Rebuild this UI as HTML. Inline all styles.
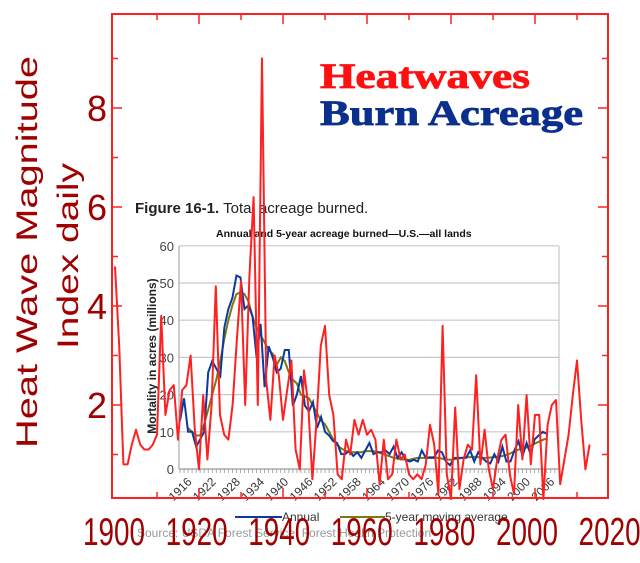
<!DOCTYPE html>
<html><head><meta charset="utf-8"><style>
html,body{margin:0;padding:0;background:#fff;}
svg{display:block;}
</style></head><body>
<svg id="chart" width="640" height="563" viewBox="0 0 640 563" xmlns="http://www.w3.org/2000/svg">
<rect x="0" y="0" width="640" height="563" fill="#fff"/>
<g id="inner"></g>
<g id="outer"></g>
<text x="320" y="88" font-family="Liberation Serif, serif" font-weight="bold" font-size="36" fill="#ff1010" stroke="#ff1010" stroke-width="0.8" textLength="210" lengthAdjust="spacingAndGlyphs">Heatwaves</text>
<text x="320" y="125" font-family="Liberation Serif, serif" font-weight="bold" font-size="36" fill="#0a2f8c" stroke="#0a2f8c" stroke-width="0.8" textLength="263" lengthAdjust="spacingAndGlyphs">Burn Acreage</text>
</svg>
<script>
const hwYears=[];for(let y=1900;y<=2013;y++)hwYears.push(y);
const hwValues=[4.8,3.2,0.8,0.8,1.2,1.5,1.2,1.1,1.1,1.2,1.4,3.8,1.8,2.3,2.4,1.3,2.3,2.4,3.0,1.5,0.7,2.2,0.9,2.0,4.4,1.8,1.4,1.3,2.0,3.3,4.5,2.0,4.6,6.2,2.0,9.0,2.5,1.7,3.0,2.6,1.7,2.3,2.9,1.1,0.7,2.7,2.0,0.5,1.7,3.2,3.6,2.2,1.8,0.6,0.5,1.3,1.0,1.7,1.4,1.7,1.4,1.5,1.3,0.4,1.3,0.5,0.6,1.3,0.9,1.0,0.6,0.5,0.6,0.5,0.8,1.6,1.2,0.2,3.6,0.6,0.1,1.95,0.3,0.9,1.2,1.1,2.6,0.8,1.5,0.7,0.3,0.9,1.3,1.4,0.6,0.2,2.0,0.9,2.2,0.8,1.8,1.8,0.1,1.6,2.0,2.1,0.4,0.9,1.4,2.2,2.9,1.7,0.7,1.2];
const hwYTicks=[2,4,6,8];
const hwXTicks=[1900,1920,1940,1960,1980,2000,2020];
const burnYears=[];for(let y=1916;y<=2007;y++)burnYears.push(y);
const burnAnnual=[13,19,10,10,6,8,10,26,29,27,25,38,43,46,52,51.5,43,44,41,30,39,22,33,30,26,27,32,32,17,20,25,17,15.5,18,11,14,10,9,7.5,7,4,4,5,3.5,4.5,3,5,7,4,4.5,4.5,5,4,6,3,4.5,2.5,2,2.5,2,5,3,3,3,5,4.5,2,1,3,3,3,3,5,2,4.5,3,2,1.5,4,2,6,2,2,5,7.5,3.5,7,4,8,9,10,9.5];
const maYears=[];for(let y=1918;y<=2007;y++)maYears.push(y);
const burnMA=[11,10,9,9,12,16,20,24,29,35,40,44,47,47.5,47,45,41,38,36,34,32,31,28,30,29,26,24,23,20,19.5,19,17,15,13,12,10,8,6.5,5.5,5,4.5,4.5,4.5,4.5,4.8,4.8,4.8,4.6,4.2,3.8,3.4,3,2.8,2.6,2.5,2.5,2.8,3,3,3,3.2,3.2,3,2.8,2.6,2.5,2.6,2.8,3,3.2,3.2,3.3,3.2,3,3,3.1,3.2,3.3,3.5,3.8,4.2,4.8,5.2,5.5,5.8,6.2,6.8,7.3,7.8,8.2];
const burnYTicks=[0,10,20,30,40,50,60];
const burnXTicks=[1916,1922,1928,1934,1940,1946,1952,1958,1964,1970,1976,1982,1988,1994,2000,2006];

const NS='http://www.w3.org/2000/svg';
function mk(parent,tag,attrs,text){const e=document.createElementNS(NS,tag);for(const k in attrs)e.setAttribute(k,attrs[k]);if(text!==undefined)e.textContent=text;parent.appendChild(e);return e;}
const hx=y=>115+4.2*(y-1900);
const lx=y=>114+4.13*(y-1900);
const hy=v=>504-49.5*v;
const bx=y=>180+4.03*(y-1916);
const by=v=>469-3.72*v;

const inner=document.getElementById('inner');
burnYTicks.forEach(t=>{
  const l=mk(inner,'line',{x1:179,x2:559,y1:by(t),y2:by(t),stroke:t===0?'#999':'#c8c8d0','stroke-width':1.2});
  
  
  const tx=mk(inner,'text',{x:174,y:by(t)+5,'text-anchor':'end','font-family':'Liberation Sans, sans-serif','font-size':13,fill:'#444'},String(t));
  
  
});
const vb=mk(inner,'line',{x1:179,x2:179,y1:246,y2:469,stroke:'#999','stroke-width':1});


const rb=mk(inner,'line',{x1:559,x2:559,y1:246,y2:469,stroke:'#bbb','stroke-width':1});


for(let y=1916;y<=2009;y++){const t=mk(inner,'line',{x1:bx(y),x2:bx(y),y1:469,y2:473,stroke:'#999','stroke-width':0.8});}
burnXTicks.forEach(yr=>{
  const x=bx(yr)+3,y=492;
  const t=mk(inner,'text',{x:x,y:y,'text-anchor':'middle','font-family':'Liberation Sans, sans-serif','font-size':12,fill:'#333',transform:`rotate(-45 ${x} ${y})`},String(yr));
  
  
});
const ma=mk(inner,'polyline',{points:maYears.map((y,i)=>bx(y)+','+by(burnMA[i])).join(' '),fill:'none',stroke:'#7a7a10','stroke-width':2});


const an=mk(inner,'polyline',{points:burnYears.map((y,i)=>bx(y)+','+by(burnAnnual[i])).join(' '),fill:'none',stroke:'#0a3aa0','stroke-width':2});


const ft=mk(inner,'text',{x:135,y:213,'font-family':'Liberation Sans, sans-serif','font-size':15,fill:'#222'});


ft.innerHTML='<tspan font-weight="bold">Figure 16-1.</tspan> Total acreage burned.';
const st=mk(inner,'text',{x:216,y:237,'font-family':'Liberation Sans, sans-serif','font-size':10.5,'font-weight':'bold',fill:'#111'},'Annual and 5-year acreage burned—U.S.—all lands');


const yl=mk(inner,'text',{x:156,y:356,'text-anchor':'middle','font-family':'Liberation Sans, sans-serif','font-size':12,'font-weight':'bold',fill:'#222',transform:'rotate(-90 156 356)'},'Mortality in acres (millions)');


const l1=mk(inner,'line',{x1:235,x2:282,y1:517,y2:517,stroke:'#0a3aa0','stroke-width':2});


const l1t=mk(inner,'text',{x:282,y:521,'font-family':'Liberation Sans, sans-serif','font-size':12,fill:'#333'},'Annual');


const l2=mk(inner,'line',{x1:340,x2:385,y1:517,y2:517,stroke:'#7a7a10','stroke-width':2});


const l2t=mk(inner,'text',{x:385,y:521,'font-family':'Liberation Sans, sans-serif','font-size':12,fill:'#333'},'5-year moving average');


const src=mk(inner,'text',{x:137,y:537,'font-family':'Liberation Sans, sans-serif','font-size':12,fill:'#999'},'Source: USDA Forest Service, Forest Health Protection');



const outer=document.getElementById('outer');
const fr=mk(outer,'rect',{x:112,y:14,width:496,height:484,fill:'none',stroke:'#ff2020','stroke-width':2});


for(let v=1;v<=9;v++){
  const len=v%2===0?10:6;
  const a=mk(outer,'line',{x1:112,x2:112+len,y1:hy(v),y2:hy(v),stroke:'#ff2020','stroke-width':1.5});
  
  
  const b=mk(outer,'line',{x1:608,x2:608-len,y1:hy(v),y2:hy(v),stroke:'#ff2020','stroke-width':1.5});
  
  
}
for(let y=1910;y<=2010;y+=10){
  const len=y%20===0?10:6;
  const a=mk(outer,'line',{x1:hx(y),x2:hx(y),y1:14,y2:14+len,stroke:'#ff2020','stroke-width':1.5});
  
  
  const b=mk(outer,'line',{x1:hx(y),x2:hx(y),y1:498,y2:498-len,stroke:'#ff2020','stroke-width':1.5});
  
  
}
const hw=mk(outer,'polyline',{points:hwYears.map((y,i)=>hx(y)+','+hy(hwValues[i])).join(' '),fill:'none',stroke:'#ff2020','stroke-width':2,'stroke-linejoin':'round'});


hwYTicks.forEach(t=>{
  const e=mk(outer,'text',{x:97,y:hy(t)+13,'text-anchor':'middle','font-family':'Liberation Sans, sans-serif','font-size':36,fill:'#a00000'},String(t));
  
  
});
hwXTicks.forEach(t=>{
  const e=mk(outer,'text',{x:lx(t),y:545,'text-anchor':'middle','font-family':'Liberation Sans, sans-serif','font-size':39,fill:'#a00000',textLength:62,lengthAdjust:'spacingAndGlyphs'},String(t));
  
  
});
const t1=mk(outer,'text',{x:0,y:0,'text-anchor':'middle','font-family':'Liberation Sans, sans-serif','font-size':30,fill:'#a00000',transform:'translate(37 252) rotate(-90)',textLength:392,lengthAdjust:'spacingAndGlyphs'},'Heat Wave Magnitude');


const t2=mk(outer,'text',{x:0,y:0,'text-anchor':'middle','font-family':'Liberation Sans, sans-serif','font-size':30,fill:'#a00000',transform:'translate(78 256) rotate(-90)',textLength:186,lengthAdjust:'spacingAndGlyphs'},'Index daily');


</script>
</body></html>
